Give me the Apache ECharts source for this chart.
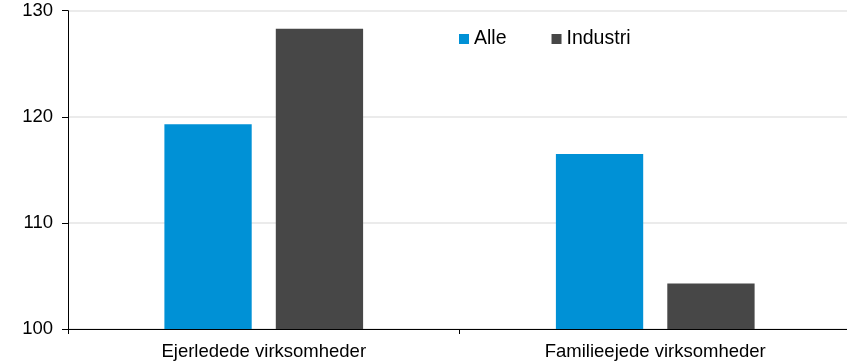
<!DOCTYPE html>
<html>
<head>
<meta charset="utf-8">
<script src="https://cdn.jsdelivr.net/npm/echarts@6/dist/echarts.min.js"></script>
<style>
  html, body { margin: 0; padding: 0; background: #ffffff; }
  #chart { width: 851px; height: 363px; }
</style>
</head>
<body>
<div id="chart"></div>
<script>
// Category labels along the x axis
const categories = ['Ejerledede virksomheder', 'Familieejede virksomheder'];
// Index values per group
const alleValues = [119.3, 116.5];
const industriValues = [128.3, 104.3];
// Value axis range and step
const yMin = 100;
const yMax = 130;
const yStep = 10;

const FONT = '"Liberation Sans", Arial, sans-serif';

const chart = echarts.init(document.getElementById('chart'), null, { renderer: 'canvas' });

chart.setOption({
  animation: false,
  backgroundColor: '#ffffff',
  textStyle: { fontFamily: FONT },
  grid: { left: 68, right: 0, top: 10.7, bottom: 34, containLabel: false },
  legend: {
    left: 454,
    top: 24,
    icon: 'rect',
    itemWidth: 10,
    itemHeight: 10,
    itemGap: 45,
    textStyle: { fontFamily: FONT, fontSize: 19.5, color: '#000000' },
    data: ['Alle', 'Industri']
  },
  xAxis: {
    type: 'category',
    data: categories,
    axisLine: { show: true, lineStyle: { color: '#000000', width: 1 } },
    axisTick: { show: true, length: 5, lineStyle: { color: '#000000' } },
    axisLabel: { fontFamily: FONT, fontSize: 18.5, color: '#000000', margin: 13 },
    splitLine: { show: false }
  },
  yAxis: {
    type: 'value',
    min: yMin,
    max: yMax,
    interval: yStep,
    axisLine: { show: true, lineStyle: { color: '#000000', width: 1 } },
    axisTick: { show: true, inside: false, length: 6, lineStyle: { color: '#000000' } },
    axisLabel: { fontFamily: FONT, fontSize: 18.5, color: '#000000', margin: 15 },
    splitLine: { show: true, lineStyle: { color: '#e4e4e4', width: 1.5 } }
  },
  series: [
    {
      name: 'Alle',
      type: 'bar',
      data: alleValues,
      barWidth: '22.3%',
      barGap: '27.6%',
      itemStyle: { color: '#0091d6' }
    },
    {
      name: 'Industri',
      type: 'bar',
      data: industriValues,
      barWidth: '22.3%',
      itemStyle: { color: '#474747' }
    }
  ]
});
</script>
</body>
</html>
